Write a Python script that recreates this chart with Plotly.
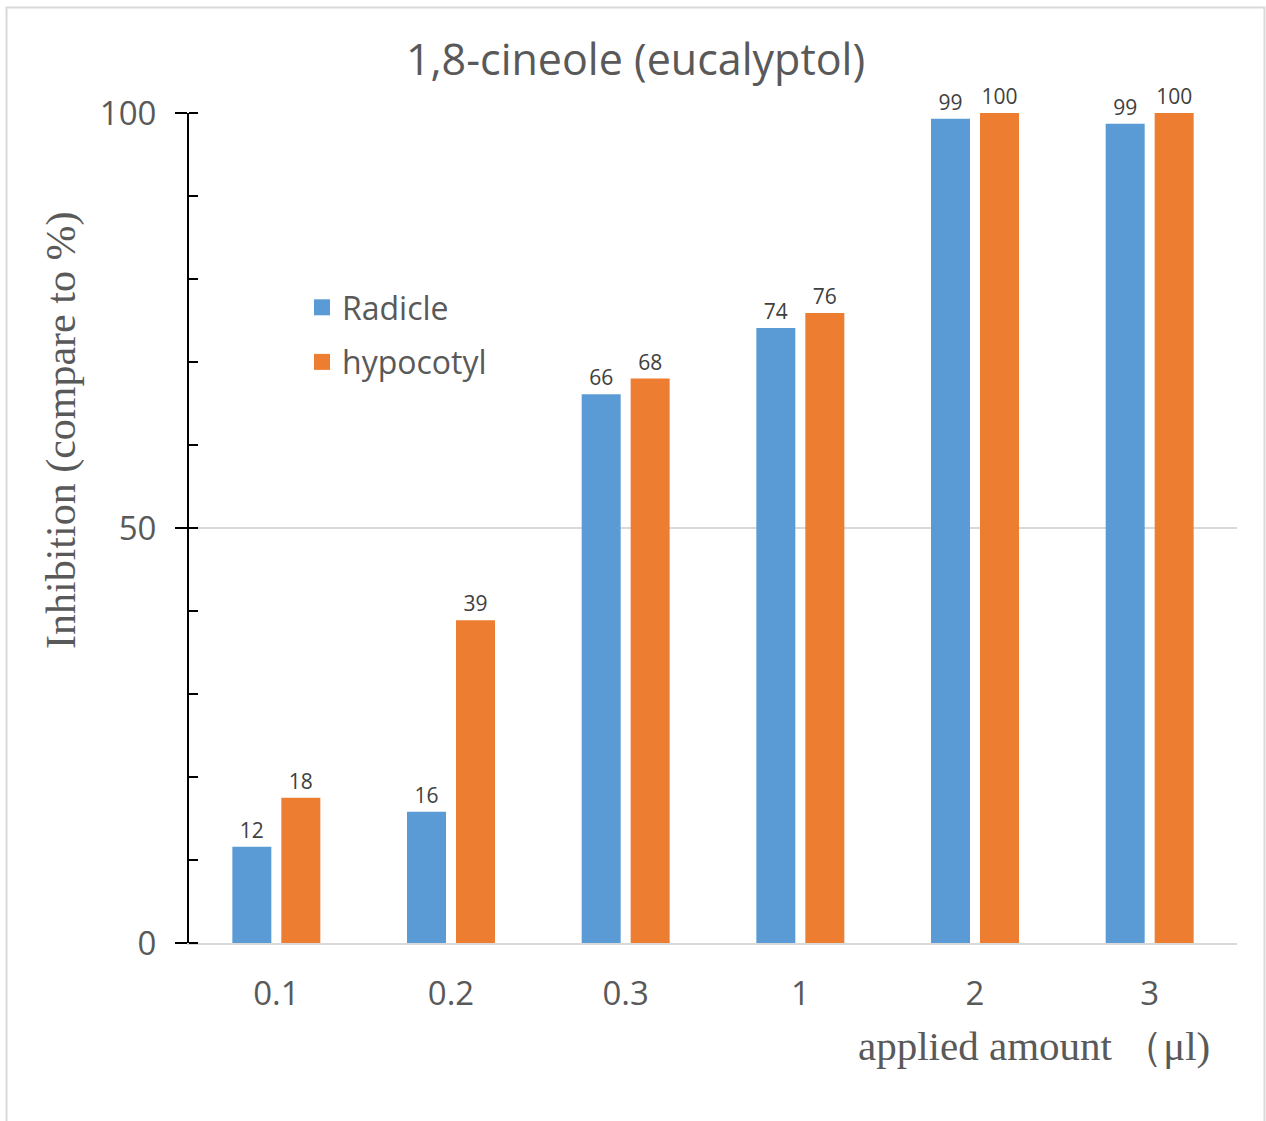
import plotly.graph_objects as go

categories = ["0.1", "0.2", "0.3", "1", "2", "3"]
radicle = [11.6, 15.8, 66.1, 74.1, 99.3, 98.7]
hypocotyl = [17.5, 38.9, 68.0, 75.9, 100.0, 100.0]
series_names = ["Radicle", "hypocotyl"]

BLUE = "#5b9bd5"
ORANGE = "#ed7d31"
GREY_TXT = "#595959"
SANS = "Open Sans, Noto Sans, sans-serif"
SERIF = "Liberation Serif, DejaVu Serif, serif"

fig = go.Figure()
for name, vals, col in zip(series_names, [radicle, hypocotyl], [BLUE, ORANGE]):
    fig.add_trace(go.Bar(name=name, x=categories, y=vals, marker_color=col,
                         marker_line_width=0, texttemplate="%{y:.0f}", textposition="outside",
                         textfont=dict(family=SANS, size=21, color="#404040"),
                         cliponaxis=False, showlegend=False))
# legend entries (square swatches)
for name, col in zip(series_names, [BLUE, ORANGE]):
    fig.add_trace(go.Scatter(name=name, x=[None], y=[None], mode="markers",
                             marker=dict(symbol="square", size=20, color=col),
                             legendgroup=name, showlegend=True))

L, R, T, B = 189, 1237, 113, 943
W, H = 1266, 1121
pw, ph = R - L, B - T

def px(x):
    return (x - L) / pw

def py(y):
    return (B - y) / ph

fig.update_layout(
    width=W, height=H,
    margin=dict(l=L, r=W - R, t=T, b=H - B, autoexpand=False),
    paper_bgcolor="white", plot_bgcolor="white",
    barmode="group", bargap=0.439, bargroupgap=0.204,
    title=dict(text="1,8-cineole (eucalyptol)", x=0.502, xanchor="center",
               y=1 - 60 / H, yanchor="middle", yref="container",
               font=dict(family=SANS, size=43, color=GREY_TXT)),
    legend=dict(x=px(302), y=py(280), xanchor="left", yanchor="top",
                font=dict(family=SANS, size=32, color=GREY_TXT),
                bgcolor="rgba(0,0,0,0)", itemsizing="trace", tracegroupgap=10,
                itemwidth=30),
    showlegend=True,
    xaxis=dict(showgrid=False, showline=True, linecolor="#d9d9d9", linewidth=2,
               ticks="", tickfont=dict(family=SANS, size=33, color=GREY_TXT),
               ticklabelstandoff=20, zeroline=False),
    yaxis=dict(range=[0, 100], tickvals=[0, 50, 100], showgrid=True, gridcolor="#d9d9d9",
               gridwidth=2, showline=True, linecolor="#000000", linewidth=2,
               ticks="outside", ticklen=12, tickcolor="#000000", tickwidth=2,
               tickfont=dict(family=SANS, size=33, color=GREY_TXT),
               ticklabelstandoff=12, zeroline=False,
               minor=dict(dtick=10, ticks="inside", ticklen=9, tickcolor="#000000",
                          tickwidth=1.5, showgrid=False)),
    annotations=[
        dict(text="Inhibition (compare to %)", xref="paper", yref="paper",
             x=px(62), y=py(431), xanchor="center", yanchor="middle", textangle=-90,
             showarrow=False, font=dict(family=SERIF, size=42, color=GREY_TXT)),
        dict(text="applied amount （μl)", xref="paper", yref="paper",
             x=px(1212), y=py(1046), xanchor="right", yanchor="middle",
             showarrow=False, font=dict(family=SERIF, size=41, color=GREY_TXT)),
    ],
    shapes=[dict(type="rect", xref="paper", yref="paper",
                 x0=px(6.5), x1=px(1264.5), y0=py(1130), y1=py(7.5),
                 line=dict(color="#d9d9d9", width=2), fillcolor="rgba(0,0,0,0)",
                 layer="below")],
)

fig.write_html("out.html")
